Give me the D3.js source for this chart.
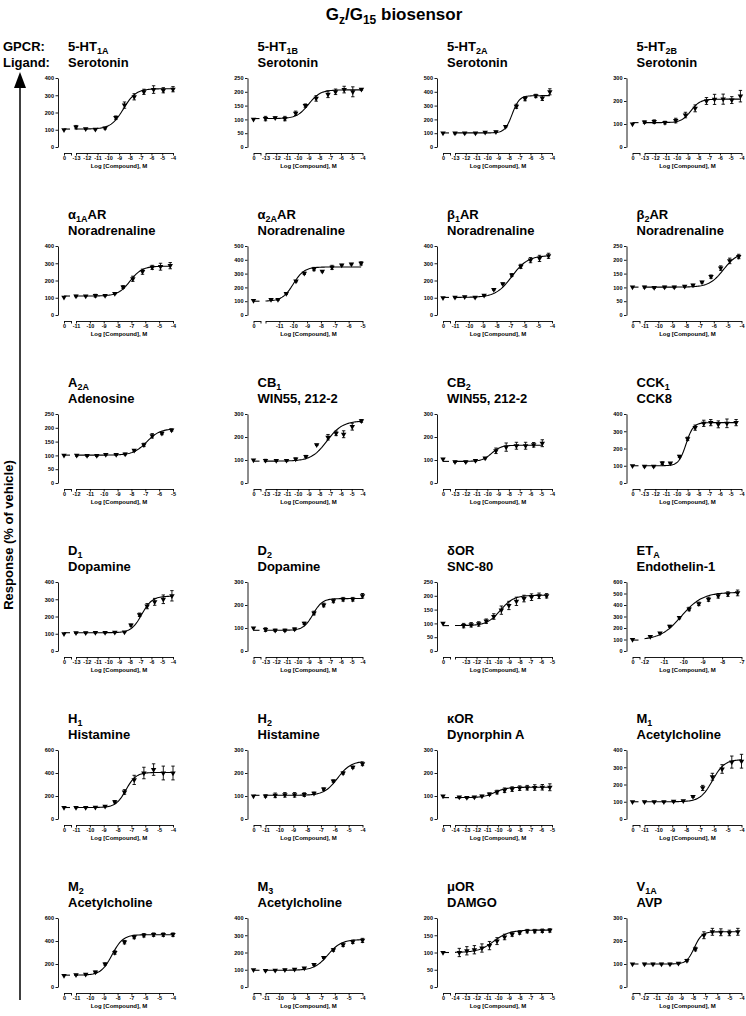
<!DOCTYPE html>
<html>
<head>
<meta charset="utf-8">
<script src="https://cdn.jsdelivr.net/npm/d3@7"></script>
<style>
body { margin: 0; background: #fff; }
svg { display: block; font-family: "Liberation Sans", Arial, sans-serif; }
</style>
</head>
<body>
<svg id="chart" width="746" height="1016"></svg>
<script>
// receptor names: [text, subscript, text after subscript]
var receptors = [
  ["5-HT", "1A", ""], ["5-HT", "1B", ""], ["5-HT", "2A", ""], ["5-HT", "2B", ""],
  ["\u03b1", "1A", "AR"], ["\u03b1", "2A", "AR"], ["\u03b2", "1", "AR"], ["\u03b2", "2", "AR"],
  ["A", "2A", ""], ["CB", "1", ""], ["CB", "2", ""], ["CCK", "1", ""],
  ["D", "1", ""], ["D", "2", ""], ["\u03b4OR", "", ""], ["ET", "A", ""],
  ["H", "1", ""], ["H", "2", ""], ["\u03baOR", "", ""], ["M", "1", ""],
  ["M", "2", ""], ["M", "3", ""], ["\u03bcOR", "", ""], ["V", "1A", ""]
];
var ligands = ["Serotonin", "Serotonin", "Serotonin", "Serotonin",
  "Noradrenaline", "Noradrenaline", "Noradrenaline", "Noradrenaline",
  "Adenosine", "WIN55, 212-2", "WIN55, 212-2", "CCK8",
  "Dopamine", "Dopamine", "SNC-80", "Endothelin-1",
  "Histamine", "Histamine", "Dynorphin A", "Acetylcholine",
  "Acetylcholine", "Acetylcholine", "DAMGO", "AVP"];

// axis settings
var yMax  = [400, 250, 500, 300, 400, 500, 400, 250, 250, 300, 300, 400, 400, 300, 250, 600, 600, 300, 300, 400, 600, 400, 200, 300];
var yStep = [100, 50, 100, 100, 100, 100, 100, 50, 50, 100, 100, 100, 100, 100, 50, 100, 200, 100, 100, 100, 200, 100, 50, 100];
var logMin = [-13, -13, -13, -13, -11, -12, -11, -11, -12, -13, -13, -13, -13, -13, -14, -12, -11, -11, -14, -11, -11, -11, -14, -12];
var logMax = [-4, -4, -4, -4, -4, -5, -4, -4, -5, -4, -4, -4, -4, -4, -5, -7, -4, -4, -5, -4, -4, -4, -5, -4];
var firstLabel = [-13, -13, -13, -13, -11, -11, -11, -11, -12, -13, -13, -13, -13, -13, -13, -12, -11, -11, -14, -11, -11, -11, -14, -12];

// vehicle (log 0) response
var vehicle = [100, 100, 100, 100, 103, 105, 100, 101, 100, 100, 104, 100, 100, 100, 100, 100, 100, 100, 100, 100, 100, 100, 100, 100];

// log [compound] of each point
var doses = [
  [-13, -12.1, -11.2, -10.3, -9.3, -8.5, -7.6, -6.7, -5.8, -4.9, -4.0],
  [-13, -12.1, -11.2, -10.2, -9.3, -8.3, -7.2, -6.5, -5.7, -4.9, -4.1],
  [-13, -12.1, -11.1, -10.2, -9.2, -8.3, -7.3, -6.5, -5.5, -4.9, -4.2],
  [-13, -12.1, -11.1, -10.1, -9.2, -8.3, -7.25, -6.5, -5.7, -4.9, -4.1],
  [-11, -10.3, -9.6, -8.9, -8.2, -7.6, -6.9, -6.2, -5.5, -4.9, -4.2],
  [-11.6, -11.1, -10.5, -9.8, -9.2, -8.5, -7.9, -7.2, -6.5, -5.8, -5.1],
  [-11, -10.3, -9.55, -8.9, -8.2, -7.55, -6.9, -6.25, -5.55, -4.9, -4.25],
  [-11, -10.3, -9.55, -8.85, -8.1, -7.5, -6.85, -6.2, -5.5, -4.85, -4.2],
  [-11.95, -11.2, -10.5, -9.85, -9.1, -8.45, -7.8, -7.1, -6.5, -5.8, -5.1],
  [-13, -12, -11.05, -10.2, -9.25, -8.25, -7.2, -6.45, -5.75, -4.95, -4.1],
  [-13, -12, -11.1, -10.2, -9.2, -8.25, -7.3, -6.45, -5.7, -4.9],
  [-13, -12.15, -11.35, -10.6, -9.75, -9.0, -8.3, -7.5, -6.85, -6.15, -5.35, -4.5],
  [-13, -12.1, -11.2, -10.3, -9.4, -8.5, -7.9, -7.1, -6.4, -5.7, -4.9, -4.1],
  [-13, -12.1, -11.2, -10.3, -9.4, -8.5, -7.6, -6.7, -5.8, -4.9, -4.0],
  [-13.2, -12.5, -11.8, -11.1, -10.4, -9.7, -9.0, -8.3, -7.6, -6.9, -6.2, -5.5],
  [-11.7, -11.2, -10.7, -10.2, -9.7, -9.2, -8.7, -8.2, -7.7, -7.2],
  [-11, -10.3, -9.6, -8.9, -8.2, -7.5, -6.8, -6.1, -5.4, -4.7, -4.0],
  [-11, -10.3, -9.6, -8.9, -8.2, -7.5, -6.8, -6.1, -5.4, -4.7, -4.0],
  [-13.6, -12.9, -12.2, -11.5, -10.8, -10.1, -9.4, -8.7, -8.0, -7.3, -6.6, -5.9, -5.2],
  [-11, -10.3, -9.6, -8.9, -8.2, -7.5, -6.8, -6.1, -5.4, -4.7, -4.0],
  [-11, -10.3, -9.6, -8.9, -8.2, -7.5, -6.8, -6.1, -5.4, -4.7, -4.0],
  [-11, -10.3, -9.6, -8.9, -8.2, -7.5, -6.8, -6.1, -5.4, -4.7, -4.0],
  [-13.6, -12.9, -12.2, -11.5, -10.8, -10.1, -9.4, -8.7, -8.0, -7.3, -6.6, -5.9, -5.2],
  [-12, -11.3, -10.6, -9.9, -9.2, -8.5, -7.8, -7.1, -6.4, -5.7, -5.0, -4.3]
];

// response (% of vehicle), mean
var responses = [
  [115, 105, 103, 109, 170, 243, 291, 320, 333, 329, 335],
  [103, 106, 103, 122, 150, 176, 191, 200, 208, 200, 209],
  [100, 100, 100, 107, 110, 148, 295, 350, 370, 355, 400],
  [108, 110, 106, 115, 139, 168, 200, 207, 208, 204, 221],
  [110, 110, 112, 113, 124, 162, 210, 251, 276, 280, 286],
  [112, 112, 155, 245, 302, 333, 317, 345, 362, 369, 374],
  [103, 105, 103, 114, 147, 181, 232, 282, 318, 328, 343],
  [101, 99, 101, 101, 104, 108, 119, 139, 170, 196, 212],
  [100, 99, 99, 103, 103, 105, 118, 138, 171, 180, 192],
  [98, 97, 98, 104, 115, 166, 199, 216, 212, 245, 270],
  [92, 92, 97, 108, 140, 156, 162, 162, 166, 173],
  [96, 96, 115, 115, 154, 256, 321, 346, 350, 340, 346, 350],
  [105, 106, 107, 107, 108, 110, 150, 210, 260, 285, 300, 320],
  [93, 90, 90, 95, 120, 165, 200, 218, 225, 225, 240],
  [92, 95, 98, 108, 125, 148, 165, 180, 190, 195, 200, 200],
  [125, 155, 215, 290, 365, 410, 450, 480, 495, 505],
  [100, 100, 102, 110, 150, 235, 340, 400, 430, 400, 400],
  [100, 103, 105, 105, 106, 112, 130, 165, 200, 225, 240],
  [95, 93, 95, 100, 108, 117, 125, 130, 134, 136, 137, 138, 138],
  [100, 100, 100, 102, 105, 130, 180, 245, 290, 330, 335],
  [105, 110, 130, 200, 300, 390, 435, 450, 455, 455, 455],
  [95, 97, 100, 103, 110, 130, 170, 215, 245, 262, 270],
  [100, 105, 108, 113, 120, 133, 145, 153, 158, 162, 162, 163, 164],
  [100, 100, 100, 100, 103, 115, 165, 225, 240, 238, 235, 240]
];

// error bar half-heights
var errors = [
  [10, 3, 3, 5, 10, 18, 18, 15, 22, 15, 15],
  [8, 3, 8, 8, 6, 10, 12, 10, 12, 18, 3],
  [5, 4, 4, 5, 5, 5, 15, 15, 12, 18, 22],
  [5, 8, 6, 10, 12, 15, 15, 22, 22, 15, 25],
  [4, 3, 8, 3, 3, 8, 15, 15, 12, 20, 18],
  [5, 5, 5, 5, 8, 12, 5, 15, 5, 5, 12],
  [3, 3, 3, 3, 3, 5, 8, 12, 15, 18, 15],
  [3, 3, 3, 3, 3, 3, 3, 6, 8, 10, 8],
  [3, 3, 3, 3, 3, 3, 3, 6, 8, 5, 4],
  [5, 3, 3, 5, 5, 3, 12, 10, 15, 15, 6],
  [3, 3, 3, 3, 12, 18, 15, 15, 10, 15],
  [3, 3, 8, 3, 6, 10, 15, 18, 18, 20, 25, 18],
  [3, 3, 3, 3, 3, 3, 6, 10, 15, 20, 25, 30],
  [8, 5, 5, 5, 5, 8, 8, 8, 8, 8, 10],
  [8, 8, 8, 8, 10, 15, 15, 15, 12, 12, 10, 8],
  [5, 5, 8, 10, 15, 15, 18, 20, 20, 25],
  [3, 3, 3, 5, 10, 20, 40, 50, 50, 60, 60],
  [5, 10, 10, 10, 8, 5, 5, 5, 5, 5, 8],
  [3, 3, 3, 3, 5, 8, 10, 10, 10, 10, 12, 12, 15],
  [3, 3, 3, 3, 3, 5, 15, 20, 25, 35, 40],
  [5, 5, 8, 10, 15, 15, 15, 15, 15, 15, 15],
  [3, 3, 3, 3, 3, 5, 5, 8, 10, 10, 12],
  [12, 12, 12, 12, 12, 10, 8, 6, 5, 5, 5, 5, 5],
  [3, 3, 3, 3, 3, 5, 8, 15, 15, 15, 12, 15]
];

// sigmoid fit parameters
var fitBottom = [104, 103, 102, 106, 110, 100, 102, 101, 101, 95, 94, 100, 106, 90, 92, 95, 100, 103, 93, 100, 103, 97, 100, 100];
var fitTop    = [338, 207, 372, 208, 283, 348, 345, 228, 197, 270, 164, 350, 318, 228, 202, 510, 405, 252, 138, 345, 455, 275, 165, 240];
var fitEC50   = [-8.6, -9.0, -7.7, -8.7, -7.1, -10.0, -6.9, -5.3, -6.9, -7.3, -9.6, -9.15, -6.9, -8.6, -9.8, -10.1, -7.4, -5.8, -10.3, -6.1, -8.4, -6.5, -10.4, -7.9];
var fitHill   = [0.75, 0.8, 1.3, 1.0, 1.0, 1.1, 0.75, 0.85, 0.9, 0.6, 1.0, 1.3, 0.9, 1.0, 0.7, 0.8, 1.2, 0.9, 0.8, 1.0, 1.1, 0.9, 0.6, 1.4];

var svg = d3.select("#chart");
svg.append("rect").attr("width", 746).attr("height", 1016).attr("fill", "#fff");

// text with one subscript
function withSub(sel, parts, subSize) {
  sel.append("tspan").text(parts[0]);
  if (parts[1]) {
    sel.append("tspan").attr("dy", subSize * 0.35).attr("font-size", subSize).text(parts[1]);
    sel.append("tspan").attr("dy", -subSize * 0.35).text(parts[2] || "");
  }
}

// main title
var title = svg.append("text").attr("x", 394).attr("y", 20)
  .attr("text-anchor", "middle").attr("font-size", 17).attr("font-weight", "bold");
title.append("tspan").text("G");
title.append("tspan").attr("dy", 4).attr("font-size", 12).text("z");
title.append("tspan").attr("dy", -4).text("/G");
title.append("tspan").attr("dy", 4).attr("font-size", 12).text("15");
title.append("tspan").attr("dy", -4).text(" biosensor");

svg.append("text").attr("x", 3).attr("y", 51).attr("font-size", 13).attr("font-weight", "bold").text("GPCR:");
svg.append("text").attr("x", 3).attr("y", 67).attr("font-size", 13).attr("font-weight", "bold").text("Ligand:");

// y arrow and label
svg.append("line").attr("x1", 20).attr("x2", 20).attr("y1", 86).attr("y2", 1000)
  .attr("stroke", "#000").attr("stroke-width", 1.5);
svg.append("path").attr("d", "M14,88 L26,88 L20,72 Z").attr("fill", "#000");
svg.append("text").attr("transform", "translate(13,535) rotate(-90)")
  .attr("text-anchor", "middle").attr("font-size", 13).attr("font-weight", "bold")
  .text("Response (% of vehicle)");

var tri = d3.symbol().type(d3.symbolTriangle).size(13);

function drawPanel(i) {
  var col = i % 4, row = Math.floor(i / 4);
  var X0 = 58 + col * 189.5;
  var plotTop = 78 + row * 168;
  var zeroY = plotTop + 69;
  var axisY = zeroY + 6;

  var x = d3.scaleLinear().domain([logMin[i], logMax[i]]).range([X0 + 18, X0 + 115]);
  var y = d3.scaleLinear().domain([0, yMax[i]]).range([zeroY, plotTop]);
  var vx = d3.scaleLinear().domain([0, 1]).range([X0 + 6, X0 + 13]);

  var g = svg.append("g");

  // titles
  var t1 = g.append("text").attr("x", X0 + 10).attr("y", plotTop - 27)
    .attr("font-size", 13).attr("font-weight", "bold");
  withSub(t1, receptors[i], 9);
  g.append("text").attr("x", X0 + 10).attr("y", plotTop - 11)
    .attr("font-size", 13).attr("font-weight", "bold").text(ligands[i]);

  // axes
  var ya = g.append("g").attr("transform", "translate(" + X0 + ",0)")
    .call(d3.axisLeft(y).tickValues(d3.range(0, yMax[i] + 1, yStep[i]))
      .tickSize(2.5).tickSizeOuter(0).tickPadding(1.5));
  var fl = firstLabel[i];
  var xa = g.append("g").attr("transform", "translate(0," + axisY + ")")
    .call(d3.axisBottom(x).tickValues(d3.range(logMin[i], logMax[i] + 1))
      .tickFormat(function(d) { return d < fl ? "" : String(d); })
      .tickSize(2.5).tickSizeOuter(0).tickPadding(1));
  var va = g.append("g").attr("transform", "translate(0," + axisY + ")")
    .call(d3.axisBottom(vx).tickValues([0, 1])
      .tickFormat(function(d) { return d === 0 ? "0" : ""; })
      .tickSize(2.5).tickSizeOuter(0).tickPadding(1));
  [ya, xa, va].forEach(function(a) {
    a.selectAll("path, line").attr("stroke", "#000").attr("stroke-width", 0.9);
    a.selectAll("text").attr("font-size", 5.5).attr("font-weight", "bold")
      .attr("font-family", "'Liberation Sans', Arial, sans-serif").attr("fill", "#000");
  });

  g.append("text").attr("x", X0 + 61).attr("y", axisY + 14.5)
    .attr("text-anchor", "middle").attr("font-size", 6).attr("font-weight", "bold")
    .text("Log [Compound], M");

  // fitted curve
  var b = fitBottom[i], tp = fitTop[i], ec = fitEC50[i], h = fitHill[i];
  var last = doses[i][doses[i].length - 1];
  var curve = d3.range(81).map(function(k) {
    var lx = logMin[i] + k * (last - logMin[i]) / 80;
    return [lx, b + (tp - b) / (1 + Math.pow(10, (ec - lx) * h))];
  });
  g.append("path").datum(curve)
    .attr("d", d3.line().x(function(d) { return x(d[0]); }).y(function(d) { return y(d[1]); }))
    .attr("fill", "none").attr("stroke", "#000").attr("stroke-width", 1.1);

  // vehicle dash at baseline
  g.append("line").attr("x1", vx(0)).attr("x2", vx(0) + 6)
    .attr("y1", y(b)).attr("y2", y(b)).attr("stroke", "#000").attr("stroke-width", 1.1);

  var pts = doses[i].map(function(d, k) {
    return { px: x(d), v: responses[i][k], e: errors[i][k] };
  });
  pts.unshift({ px: vx(0), v: vehicle[i], e: 0 });

  // error bars
  var eb = g.selectAll(".eb").data(pts.filter(function(p) { return p.e > 0; })).enter().append("g");
  eb.append("line").attr("x1", function(p) { return p.px; }).attr("x2", function(p) { return p.px; })
    .attr("y1", function(p) { return y(p.v - p.e); }).attr("y2", function(p) { return y(p.v + p.e); });
  eb.append("line").attr("x1", function(p) { return p.px - 1.7; }).attr("x2", function(p) { return p.px + 1.7; })
    .attr("y1", function(p) { return y(p.v + p.e); }).attr("y2", function(p) { return y(p.v + p.e); });
  eb.append("line").attr("x1", function(p) { return p.px - 1.7; }).attr("x2", function(p) { return p.px + 1.7; })
    .attr("y1", function(p) { return y(p.v - p.e); }).attr("y2", function(p) { return y(p.v - p.e); });
  eb.selectAll("line").attr("stroke", "#000").attr("stroke-width", 0.9);

  // markers
  g.selectAll(".pt").data(pts).enter().append("path")
    .attr("d", tri)
    .attr("transform", function(p) { return "translate(" + p.px + "," + y(p.v) + ") rotate(180)"; })
    .attr("fill", "#000");
}

for (var i = 0; i < receptors.length; i++) {
  drawPanel(i);
}
</script>
</body>
</html>
